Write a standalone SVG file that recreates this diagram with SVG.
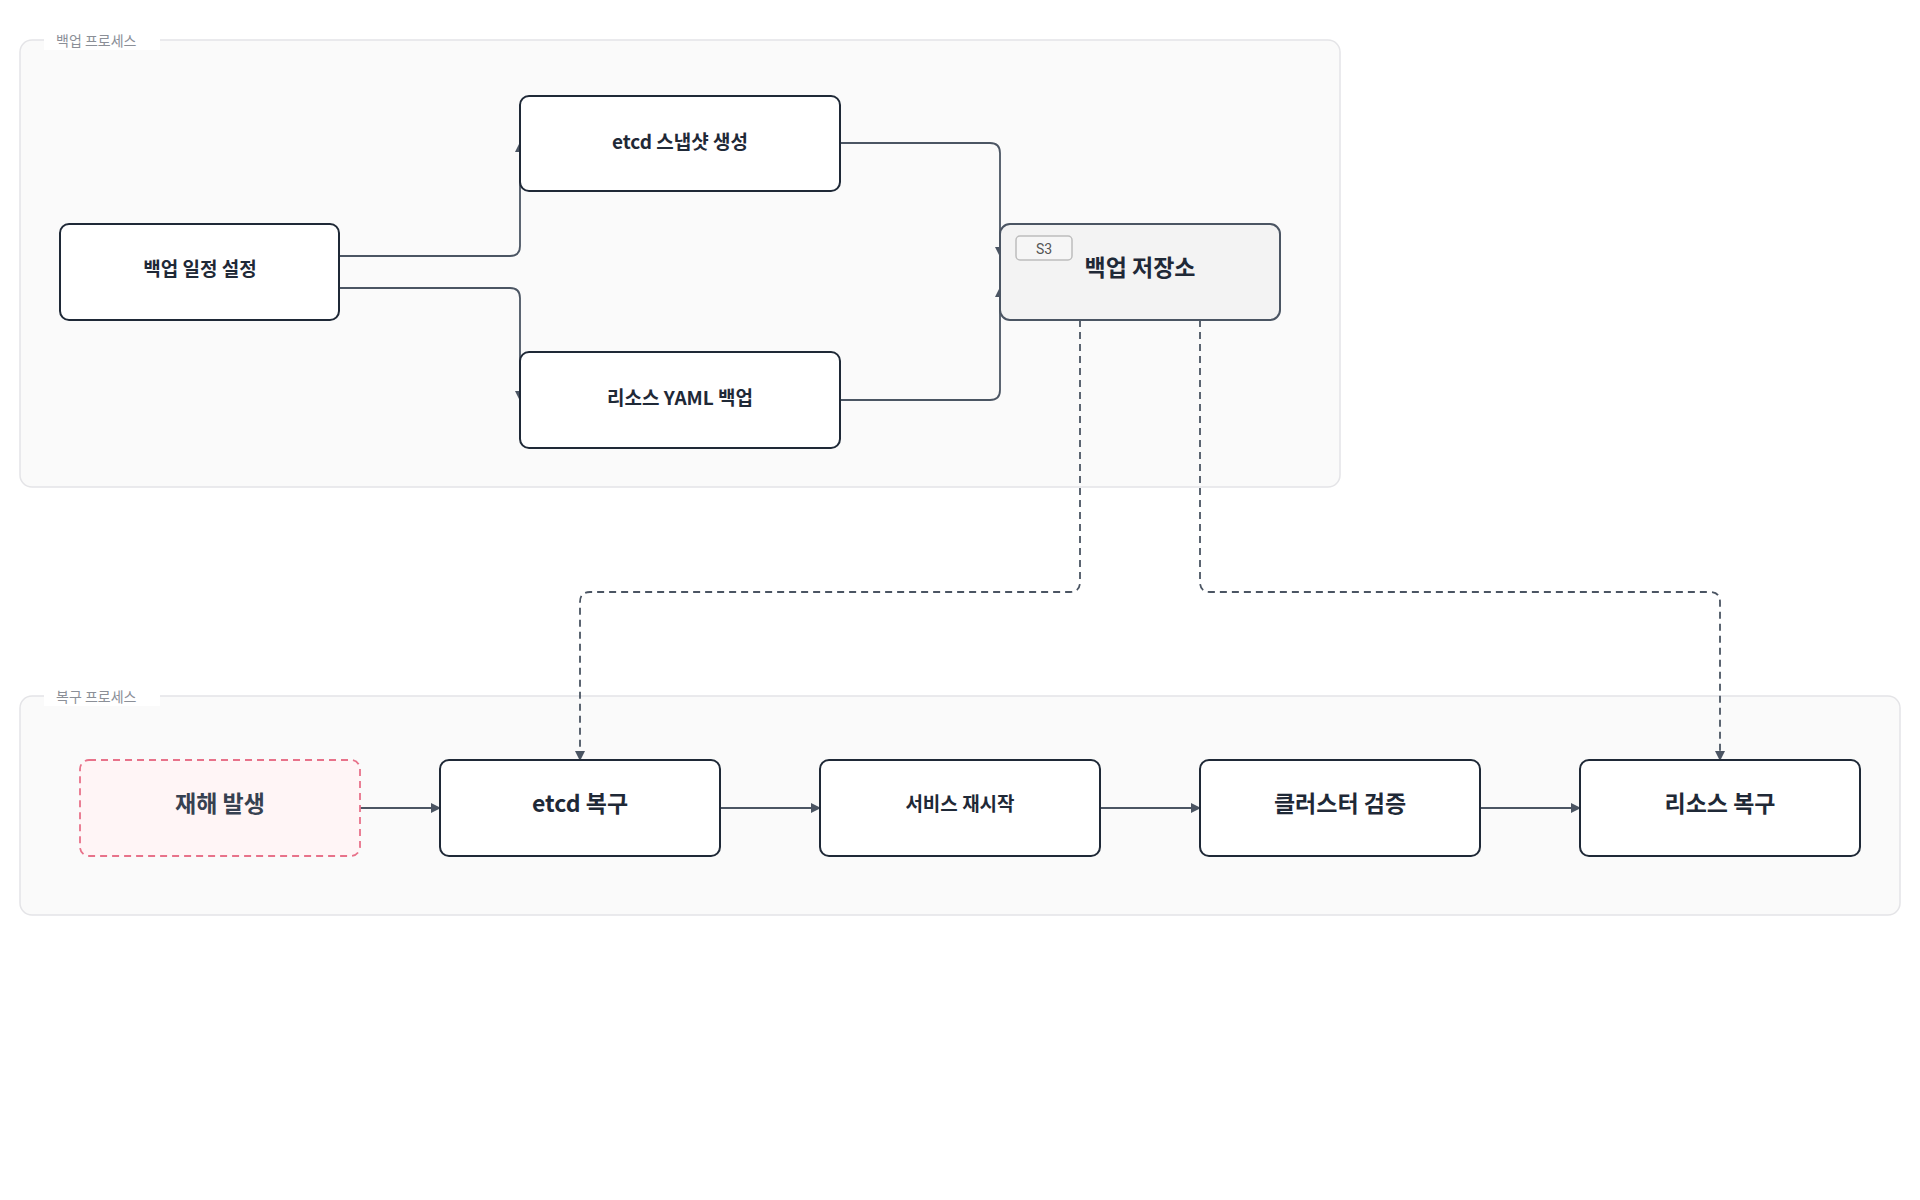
<svg xmlns="http://www.w3.org/2000/svg" width="1920" height="1200" viewBox="0 0 1920 1200">
<style>
text{font-family:"Noto Sans CJK KR","Noto Sans",sans-serif;fill:#1f2937;text-anchor:middle;dominant-baseline:central}
.grp{fill:#fafafa;stroke:#e4e4e7;stroke-width:1.5}
.gl{font-size:14px;fill:#8b8f97;text-anchor:start}
.n{fill:#fff;stroke:#1f2937;stroke-width:2}
.b{font-weight:700;font-size:23px}
.s{font-weight:700;font-size:19px}
.e{fill:none;stroke:#4b5563;stroke-width:1.8}
.d{stroke-dasharray:7 5}
</style>
<defs>
<marker id="a" viewBox="0 0 10 10" refX="9" refY="5" markerWidth="10" markerHeight="10" markerUnits="userSpaceOnUse" orient="auto"><path d="M0,0L10,5L0,10z" fill="#4b5563"/></marker>
</defs>
<rect width="1920" height="1200" fill="#fff"/>
<g id="g-backup"><rect class="grp" x="20" y="40" width="1320" height="447" rx="12"/><rect x="44" y="30" width="116" height="20" fill="#fff"/><text class="gl" x="56" y="40">백업  프로세스</text></g>
<g id="g-restore"><rect class="grp" x="20" y="696" width="1880" height="219" rx="12"/><rect x="44" y="686" width="116" height="20" fill="#fff"/><text class="gl" x="56" y="696">복구  프로세스</text></g>
<g id="edges">
<path class="e" d="M339,256H510Q520,256 520,246V143" marker-end="url(#a)"/>
<path class="e" d="M339,288H510Q520,288 520,298V400" marker-end="url(#a)"/>
<path class="e" d="M840,143H990Q1000,143 1000,153V256" marker-end="url(#a)"/>
<path class="e" d="M840,400H990Q1000,400 1000,390V288" marker-end="url(#a)"/>
<path class="e d" d="M1080,320V582Q1080,592 1070,592H590Q580,592 580,602V760" marker-end="url(#a)"/>
<path class="e d" d="M1200,320V582Q1200,592 1210,592H1710Q1720,592 1720,602V760" marker-end="url(#a)"/>
<path class="e" d="M360,808H440" marker-end="url(#a)"/>
<path class="e" d="M720,808H820" marker-end="url(#a)"/>
<path class="e" d="M1100,808H1200" marker-end="url(#a)"/>
<path class="e" d="M1480,808H1580" marker-end="url(#a)"/>
</g>
<g id="n-schedule"><rect class="n" x="60" y="224" width="279" height="96" rx="9"/><text class="s" x="200" y="267">백업 일정 설정</text></g>
<g id="n-snapshot"><rect class="n" x="520" y="96" width="320" height="95" rx="9"/><text class="s" x="680" y="140">etcd 스냅샷 생성</text></g>
<g id="n-yaml"><rect class="n" x="520" y="352" width="320" height="96" rx="9"/><text class="s" x="680" y="396">리소스 YAML 백업</text></g>
<g id="n-storage"><rect x="1000" y="224" width="280" height="96" rx="10" fill="#f3f3f3" stroke="#4b5563" stroke-width="2"/><rect x="1016" y="236" width="56" height="24" rx="4" fill="#f6f6f6" stroke="#bdbdbd" stroke-width="1.5"/><text x="1044" y="249" style="font-size:14px;fill:#555;font-family:Roboto,sans-serif">S3</text><text class="b" x="1140" y="266">백업 저장소</text></g>
<g id="n-disaster"><rect x="80" y="760" width="280" height="96" rx="9" fill="#fff5f6" stroke="#e8728a" stroke-width="1.8" stroke-dasharray="7 5"/><text class="b" x="220" y="802" style="fill:#374151">재해 발생</text></g>
<g id="n-etcd"><rect class="n" x="440" y="760" width="280" height="96" rx="9"/><text class="b" x="580" y="802">etcd 복구</text></g>
<g id="n-svc"><rect class="n" x="820" y="760" width="280" height="96" rx="9"/><text class="s" x="960" y="802">서비스 재시작</text></g>
<g id="n-verify"><rect class="n" x="1200" y="760" width="280" height="96" rx="9"/><text class="b" x="1340" y="802">클러스터 검증</text></g>
<g id="n-res"><rect class="n" x="1580" y="760" width="280" height="96" rx="9"/><text class="b" x="1720" y="802">리소스 복구</text></g>
</svg>
